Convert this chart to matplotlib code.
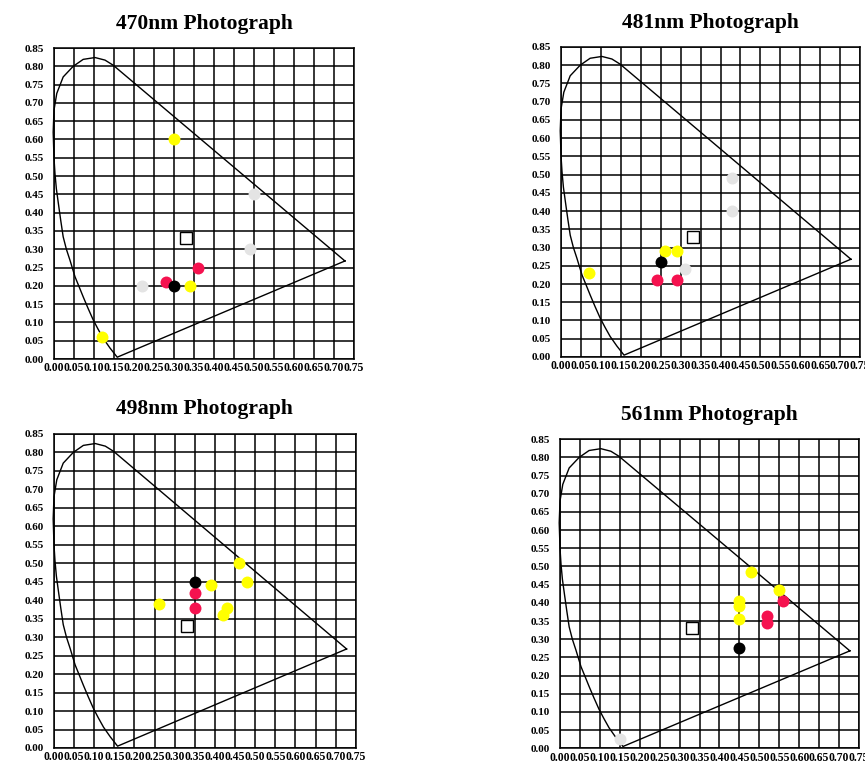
import numpy as np
import matplotlib
matplotlib.use('Agg')
from matplotlib import pyplot as plt

# chromaticity outline (horseshoe + straight edges)
locus_x = [0.727, 0.148, 0.1275, 0.1025, 0.073, 0.048, 0.023, 0.007, 0.0, -0.002, 0.0,
           0.0025, 0.006, 0.011, 0.017, 0.023, 0.031, 0.04, 0.0525, 0.063, 0.073,
           0.085, 0.098, 0.110, 0.123, 0.140, 0.158, 0.727]
locus_y = [0.268, 0.803, 0.817, 0.824, 0.819, 0.80, 0.771, 0.726, 0.68, 0.62, 0.55,
           0.507, 0.465, 0.425, 0.378, 0.334, 0.300, 0.27, 0.225, 0.197, 0.17,
           0.139, 0.107, 0.082, 0.0565, 0.030, 0.005, 0.268]

white_pt = (0.33, 0.33)

titles = ['470nm Photograph', '481nm Photograph', '498nm Photograph', '561nm Photograph']

# measured points per photograph
yellow_x = [[0.30, 0.34, 0.12],
            [0.26, 0.29, 0.07],
            [0.46, 0.48, 0.39, 0.26, 0.43, 0.42],
            [0.48, 0.55, 0.45, 0.45, 0.45]]
yellow_y = [[0.60, 0.20, 0.06],
            [0.29, 0.29, 0.23],
            [0.50, 0.45, 0.44, 0.39, 0.38, 0.36],
            [0.485, 0.435, 0.405, 0.39, 0.355]]

red_x = [[0.36, 0.28], [0.24, 0.29], [0.35, 0.35], [0.56, 0.52, 0.52]]
red_y = [[0.25, 0.21], [0.21, 0.21], [0.42, 0.38], [0.405, 0.365, 0.345]]

grey_x = [[0.50, 0.49, 0.22], [0.43, 0.43, 0.31], [], [0.15]]
grey_y = [[0.45, 0.30, 0.20], [0.49, 0.40, 0.24], [], [0.025]]

black_x = [0.30, 0.25, 0.35, 0.45]
black_y = [0.20, 0.26, 0.45, 0.275]

positions = [[0.0624, 0.5313, 0.347, 0.406],
             [0.6486, 0.534, 0.3457, 0.4047],
             [0.0624, 0.0235, 0.349, 0.410],
             [0.6474, 0.0231, 0.3457, 0.4035]]

fig = plt.figure(figsize=(8.65, 7.66), dpi=100)
serif = 'Liberation Serif'

xt = np.arange(0, 0.751, 0.05)
yt = np.arange(0, 0.851, 0.05)

for i in range(4):
    ax = fig.add_axes(positions[i])
    ax.set_xlim(0, 0.75)
    ax.set_ylim(0, 0.85)
    ax.set_xticks(xt)
    ax.set_yticks(yt)
    ax.set_xticklabels(['%.2f' % v for v in xt], fontfamily=serif,
                       fontweight='bold', fontsize=8.4)
    ax.set_yticklabels(['%.2f' % v for v in yt], fontfamily=serif,
                       fontweight='bold', fontsize=8)
    ax.tick_params(length=0)
    ax.tick_params(axis='x', pad=2.5)
    ax.tick_params(axis='y', pad=7)
    ax.grid(True, color='black', linewidth=1.1)
    ax.set_axisbelow(True)
    for s in ax.spines.values():
        s.set_linewidth(1.1)

    ax.plot(locus_x, locus_y, color='black', linewidth=1.0, zorder=3, clip_on=False)

    ax.plot(grey_x[i], grey_y[i], 'o', color='#e4e4e4', markersize=8.6,
            markeredgewidth=0, zorder=4)
    ax.plot(yellow_x[i], yellow_y[i], 'o', color='#ffff00', markersize=8.6,
            markeredgewidth=0, zorder=4)
    ax.plot(red_x[i], red_y[i], 'o', color='#f5124f', markersize=8.6,
            markeredgewidth=0, zorder=4)
    ax.plot(black_x[i], black_y[i], 'o', color='black', markersize=8.6,
            markeredgewidth=0, zorder=5)
    ax.plot(white_pt[0], white_pt[1], 's', markerfacecolor='white',
            markeredgecolor='black', markeredgewidth=1.0, markersize=9, zorder=5)

    ax.set_title(titles[i], fontfamily=serif, fontweight='bold', fontsize=15.5, pad=14)

plt.savefig('out.png', dpi=100)
